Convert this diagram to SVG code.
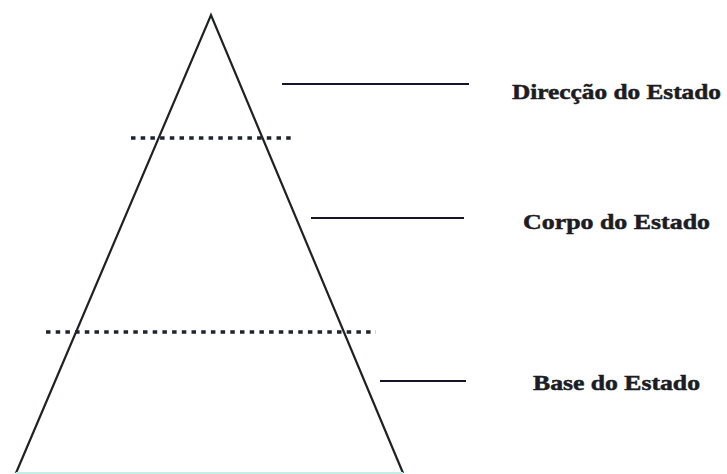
<svg xmlns="http://www.w3.org/2000/svg" width="727" height="474" viewBox="0 0 727 474">
<style>
.tri{fill:none;stroke:#1e2320;stroke-width:2.2;stroke-linejoin:miter}
.dot{stroke:#1f2330;stroke-width:3.5;stroke-dasharray:4.5 5.2}
.lead{stroke:#15142a;stroke-width:2.2}
.lbl{font-family:"Liberation Serif","Times New Roman",serif;font-weight:bold;font-size:21px;fill:#1c1c24;stroke:#1c1c24;stroke-width:0.5}
</style>
<rect width="727" height="474" fill="#ffffff"/>
<g id="pyramid">
<polyline class="tri" points="16,473 211,15 403,473"/>
<line x1="16" y1="473" x2="403" y2="473" stroke="#c8ece6" stroke-width="2"/>
</g>
<g id="dividers">
<line class="dot" x1="131" y1="138" x2="291" y2="138"/>
<line class="dot" x1="46" y1="332" x2="376" y2="332"/>
</g>
<g id="connectors">
<line class="lead" x1="282" y1="84" x2="469" y2="84"/>
<line class="lead" x1="311" y1="218" x2="464" y2="218"/>
<line class="lead" x1="380" y1="381" x2="466" y2="381"/>
</g>
<g id="direccao"><text class="lbl" x="512" y="99" textLength="209" lengthAdjust="spacingAndGlyphs">Direcção do Estado</text></g>
<g id="corpo"><text class="lbl" x="523" y="229" textLength="187" lengthAdjust="spacingAndGlyphs">Corpo do Estado</text></g>
<g id="base"><text class="lbl" x="533" y="390" textLength="167" lengthAdjust="spacingAndGlyphs">Base do Estado</text></g>
</svg>
